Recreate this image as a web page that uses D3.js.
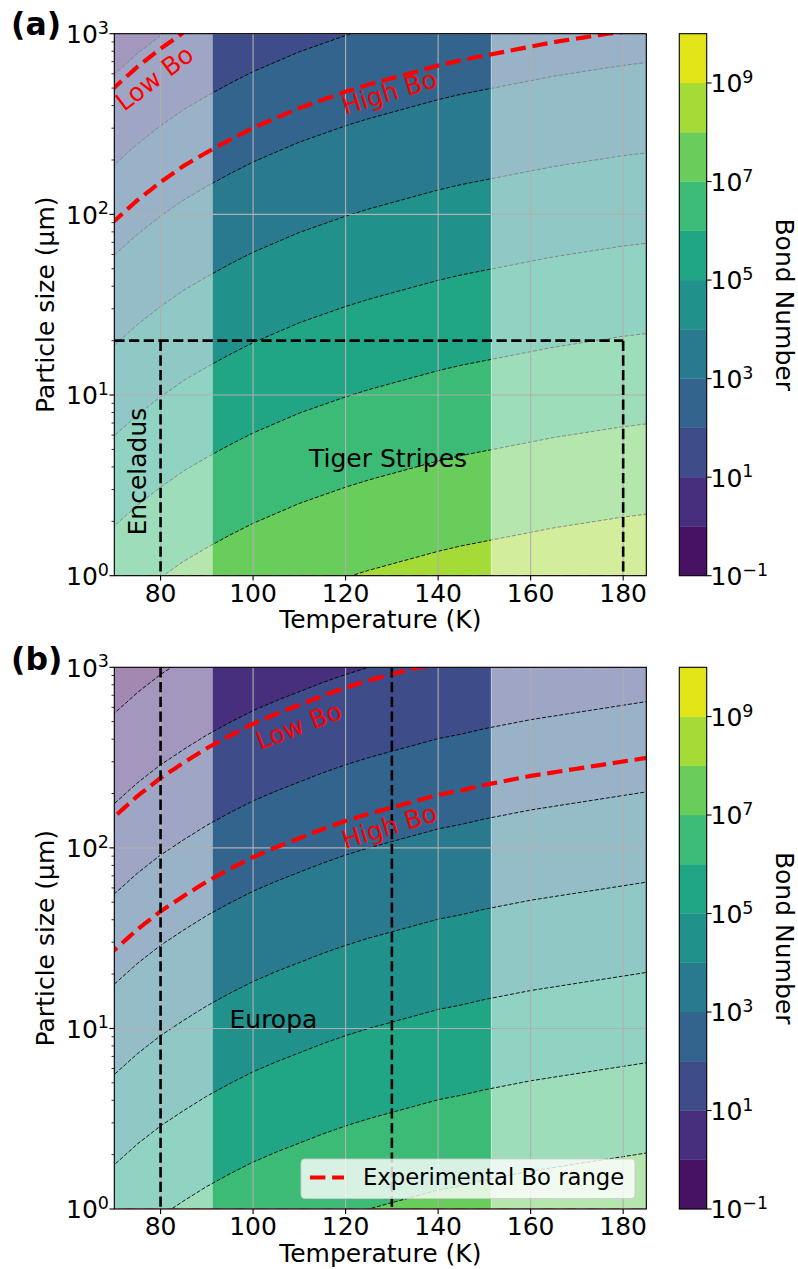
<!DOCTYPE html>
<html><head><meta charset="utf-8">
<script src="https://cdn.jsdelivr.net/npm/d3@7"></script>
<style>
body{margin:0;background:#fff}
svg{display:block}
text{font-family:"DejaVu Sans",sans-serif;fill:#000}
</style>
</head><body>
<svg id="chart" width="798" height="1269"></svg>
<script>
// ---------------- data ----------------
// Temperatures (K) at which the Bond number field was read
const temperatureK = [70,75,80,85,90,95,100,105,110,115,120,125,130,135,140,145,150,155,160,165,170,175,180,185];
// log10(Bond number) for a 1 µm particle at each temperature (Bo scales as size^-2)
const logBoAt1umEnceladus = [6.55,6.78,6.98,7.16,7.31,7.45,7.58,7.69,7.80,7.89,7.98,8.06,8.13,8.20,8.27,8.33,8.38,8.43,8.48,8.53,8.57,8.61,8.65,8.68];
const logBoAt1umEuropa    = [5.49,5.72,5.92,6.09,6.25,6.39,6.52,6.63,6.73,6.83,6.92,7.00,7.07,7.14,7.21,7.26,7.32,7.37,7.42,7.46,7.50,7.54,7.58,7.62];
const sizeRangeUm = [1, 1000];
const temperatureRange = [70, 185];
const boLevelExponents = [-1,0,1,2,3,4,5,6,7,8,9,10];
const experimentalBo = [14, 420];           // Low Bo, High Bo
const shadedTemperatureRanges = [[70, 91.3], [151.5, 185]];
const enceladusBoxT = [80, 180];
const enceladusBoxMaxSizeUm = 20;
const europaT = [80, 130];
const xTicks = [80,100,120,140,160,180];
const yTickExponents = [0,1,2,3];
const colorbarTickExponents = [-1,1,3,5,7,9];

// ---------------- layout ----------------
const svg = d3.select("#chart");
const L = 114.3, R = 646.3;
const cbX = 679.3, cbW = 27.4;
const FS = 25;
const logStep = 0.02; // evaluation spacing along log10(size)

const nx = temperatureK.length;
const ny = Math.round((Math.log10(sizeRangeUm[1]) - Math.log10(sizeRangeUm[0])) / logStep) + 1;
const xScale = d3.scaleLinear().domain(temperatureRange).range([L, R]);
const tOfCoord = d3.scaleLinear().domain([0.5, nx - 0.5]).range([temperatureK[0], temperatureK[nx-1]]);
const bandColor = k => d3.interpolateViridis((k - boLevelExponents[0] + 0.5) / (boLevelExponents.length - 1));

function supLabel(sel, exp) {
  sel.append("tspan").text("10");
  sel.append("tspan").attr("dy", -9.4).attr("font-size", 17.5).text(exp < 0 ? "\u2212" + (-exp) : String(exp));
}

function drawPanel(cfg) {
  const {top, bottom, logBo, id} = cfg;
  const yScale = d3.scaleLog().domain(sizeRangeUm).range([bottom, top]);
  const g = svg.append("g");
  g.append("clipPath").attr("id", "clip" + id).append("rect")
    .attr("x", L).attr("y", top).attr("width", R - L).attr("height", bottom - top);
  const plot = g.append("g").attr("clip-path", `url(#clip${id})`);

  // field on the grid
  const logD0 = Math.log10(sizeRangeUm[0]);
  const values = new Array(nx * ny);
  for (let j = 0; j < ny; j++) {
    const logD = logD0 + j * logStep;
    for (let i = 0; i < nx; i++) values[i + j * nx] = logBo[i] - 2 * logD;
  }
  const proj = d3.geoTransform({
    point(x, y) {
      this.stream.point(xScale(tOfCoord(x)), yScale(Math.pow(10, logD0 + (y - 0.5) * logStep)));
    }
  });
  const path = d3.geoPath(proj);
  const fillLevels = boLevelExponents.slice(0, -1);
  const contours = d3.contours().size([nx, ny]).thresholds(fillLevels)(values);

  const fills = plot.append("g");
  fills.selectAll("path").data(contours).join("path")
    .attr("d", path).attr("fill", d => bandColor(d.value)).attr("fill-rule", "evenodd")
    .attr("stroke", d => bandColor(d.value)).attr("stroke-width", 0.3);

  const lineContours = d3.contours().size([nx, ny]).thresholds(boLevelExponents.slice(1, -1))(values);
  const drawLines = (parent) => parent.append("g").selectAll("path").data(lineContours).join("path")
    .attr("d", path).attr("fill", "none").attr("stroke", "#000")
    .attr("stroke-width", 0.9).attr("stroke-dasharray", "4,1.8");

  const drawShade = (parent) => {
    const sg = parent.append("g");
    sg.selectAll("rect").data(shadedTemperatureRanges).join("rect")
      .attr("x", d => xScale(d[0])).attr("width", d => xScale(d[1]) - xScale(d[0]))
      .attr("y", top).attr("height", bottom - top)
      .attr("fill", "#fff").attr("fill-opacity", 0.5);
    sg.append("line").attr("x1", xScale(shadedTemperatureRanges[1][0])).attr("x2", xScale(shadedTemperatureRanges[1][0]))
      .attr("y1", top).attr("y2", bottom).attr("stroke", "#fff").attr("stroke-opacity", 0.6).attr("stroke-width", 1);
  };

  if (cfg.linesAboveShade) { drawShade(plot); drawLines(plot); }
  else { drawLines(plot); drawShade(plot); }

  // grid
  const grid = plot.append("g").attr("stroke", "#b0b0b0").attr("stroke-width", 1.1);
  grid.selectAll("line.v").data(xTicks).join("line")
    .attr("x1", d => xScale(d)).attr("x2", d => xScale(d)).attr("y1", top).attr("y2", bottom);
  grid.selectAll("line.h").data(yTickExponents).join("line")
    .attr("x1", L).attr("x2", R).attr("y1", d => yScale(Math.pow(10, d))).attr("y2", d => yScale(Math.pow(10, d)));

  // experimental Bo range (red)
  const redContours = d3.contours().size([nx, ny]).thresholds(experimentalBo.map(Math.log10))(values);
  plot.append("g").selectAll("path").data(redContours).join("path")
    .attr("d", path).attr("fill", "none").attr("stroke", "#ff0000")
    .attr("stroke-width", 4.2).attr("stroke-dasharray", "15.4,6.7");

  cfg.extras(plot, yScale);

  // red labels
  cfg.boLabels.forEach(b => {
    g.append("text").attr("transform", `translate(${b.x},${b.y}) rotate(${b.a})`)
      .attr("font-size", FS).style("fill", "#ff0000").text(b.t);
  });

  // spines
  g.append("rect").attr("x", L).attr("y", top).attr("width", R - L).attr("height", bottom - top)
    .attr("fill", "none").attr("stroke", "#000").attr("stroke-width", 1.1);

  // x axis
  const xa = g.append("g");
  xa.selectAll("line").data(xTicks).join("line")
    .attr("x1", d => xScale(d)).attr("x2", d => xScale(d)).attr("y1", bottom).attr("y2", bottom + 4.9)
    .attr("stroke", "#000").attr("stroke-width", 1.1);
  xa.selectAll("text").data(xTicks).join("text")
    .attr("x", d => xScale(d)).attr("y", bottom + 26).attr("text-anchor", "middle").attr("font-size", FS).text(d => d);
  g.append("text").attr("x", (L + R) / 2).attr("y", bottom + 52.7).attr("text-anchor", "middle")
    .attr("font-size", FS).text("Temperature (K)");

  // y axis
  const ya = g.append("g");
  ya.selectAll("line.maj").data(yTickExponents).join("line")
    .attr("x1", L - 4.9).attr("x2", L).attr("y1", d => yScale(Math.pow(10, d))).attr("y2", d => yScale(Math.pow(10, d)))
    .attr("stroke", "#000").attr("stroke-width", 1.1);
  const minors = [];
  for (let e = yTickExponents[0]; e < yTickExponents[yTickExponents.length - 1]; e++)
    for (let m = 2; m <= 9; m++) minors.push(m * Math.pow(10, e));
  ya.selectAll("line.min").data(minors).join("line")
    .attr("x1", L - 2.8).attr("x2", L).attr("y1", d => yScale(d)).attr("y2", d => yScale(d))
    .attr("stroke", "#000").attr("stroke-width", 0.8);
  yTickExponents.forEach(e => {
    const t = ya.append("text").attr("x", 109).attr("y", yScale(Math.pow(10, e)) + 9.2)
      .attr("text-anchor", "end").attr("font-size", FS);
    supLabel(t, e);
  });
  g.append("text").attr("transform", `translate(54,${(top + bottom) / 2}) rotate(-90)`)
    .attr("text-anchor", "middle").attr("font-size", FS).text("Particle size (\u03bcm)");

  // panel label
  g.append("text").attr("x", 11).attr("y", cfg.labelY).attr("font-size", 31.5).attr("font-weight", "bold").text(cfg.label);

  // colorbar
  const cy = d3.scaleLog().domain([Math.pow(10, boLevelExponents[0]), Math.pow(10, boLevelExponents[boLevelExponents.length - 1])]).range([bottom, top]);
  const cb = g.append("g");
  cb.selectAll("rect").data(fillLevels).join("rect")
    .attr("x", cbX).attr("width", cbW)
    .attr("y", d => cy(Math.pow(10, d + 1))).attr("height", d => cy(Math.pow(10, d)) - cy(Math.pow(10, d + 1)))
    .attr("fill", d => bandColor(d)).attr("stroke", d => bandColor(d)).attr("stroke-width", 0.3);
  cb.append("rect").attr("x", cbX).attr("y", top).attr("width", cbW).attr("height", bottom - top)
    .attr("fill", "none").attr("stroke", "#000").attr("stroke-width", 1.1);
  cb.selectAll("line").data(colorbarTickExponents).join("line")
    .attr("x1", cbX + cbW).attr("x2", cbX + cbW + 4.9)
    .attr("y1", d => cy(Math.pow(10, d))).attr("y2", d => cy(Math.pow(10, d)))
    .attr("stroke", "#000").attr("stroke-width", 1.1);
  colorbarTickExponents.forEach(e => {
    const t = cb.append("text").attr("x", 710.5).attr("y", cy(Math.pow(10, e)) + 9.4).attr("font-size", FS);
    supLabel(t, e);
  });
  g.append("text").attr("transform", `translate(776,${(top + bottom) / 2}) rotate(90)`)
    .attr("text-anchor", "middle").attr("font-size", FS).text("Bond Number");

  if (cfg.legend) cfg.legend(g);
}

// ---------------- panel (a): Enceladus ----------------
drawPanel({
  id: "a", top: 33.7, bottom: 575.7, logBo: logBoAt1umEnceladus, linesAboveShade: false,
  label: "(a)", labelY: 35,
  boLabels: [
    {t: "Low Bo", x: 124, y: 112, a: -37},
    {t: "High Bo", x: 345, y: 115, a: -17}
  ],
  extras: (plot, yScale) => {
    const yBox = yScale(enceladusBoxMaxSizeUm);
    const st = s => s.attr("stroke", "#000").attr("stroke-width", 2.6).attr("stroke-dasharray", "10.3,4.4").attr("fill", "none");
    st(plot.append("line").attr("x1", xScale(temperatureRange[0])).attr("x2", xScale(enceladusBoxT[1])).attr("y1", yBox).attr("y2", yBox));
    enceladusBoxT.forEach(t => st(plot.append("line").attr("x1", xScale(t)).attr("x2", xScale(t)).attr("y1", yBox).attr("y2", yScale(sizeRangeUm[0]))));
    plot.append("text").attr("x", 309).attr("y", 466.7).attr("font-size", FS).text("Tiger Stripes");
    plot.append("text").attr("transform", "translate(146,535.5) rotate(-90)").attr("font-size", FS).text("Enceladus");
  }
});

// ---------------- panel (b): Europa ----------------
drawPanel({
  id: "b", top: 667.3, bottom: 1209, logBo: logBoAt1umEuropa, linesAboveShade: true,
  label: "(b)", labelY: 670,
  boLabels: [
    {t: "Low Bo", x: 260, y: 750, a: -21},
    {t: "High Bo", x: 345, y: 849, a: -17}
  ],
  extras: (plot, yScale) => {
    europaT.forEach(t => plot.append("line").attr("x1", xScale(t)).attr("x2", xScale(t))
      .attr("y1", yScale(sizeRangeUm[1])).attr("y2", yScale(sizeRangeUm[0]))
      .attr("stroke", "#000").attr("stroke-width", 2.6).attr("stroke-dasharray", "10.3,4.4"));
    plot.append("text").attr("x", 229.5).attr("y", 1028.3).attr("font-size", FS).text("Europa");
  },
  legend: g => {
    g.append("rect").attr("x", 301).attr("y", 1159).attr("width", 334).attr("height", 39.5).attr("rx", 4)
      .attr("fill", "#fff").attr("fill-opacity", 0.8).attr("stroke", "#cccccc").attr("stroke-opacity", 0.8).attr("stroke-width", 1.1);
    g.append("line").attr("x1", 310).attr("x2", 344).attr("y1", 1177.5).attr("y2", 1177.5)
      .attr("stroke", "#ff0000").attr("stroke-width", 4.2).attr("stroke-dasharray", "15.4,6.7");
    g.append("text").attr("x", 363).attr("y", 1185).attr("font-size", 22.7).text("Experimental Bo range");
  }
});
</script>
</body></html>
